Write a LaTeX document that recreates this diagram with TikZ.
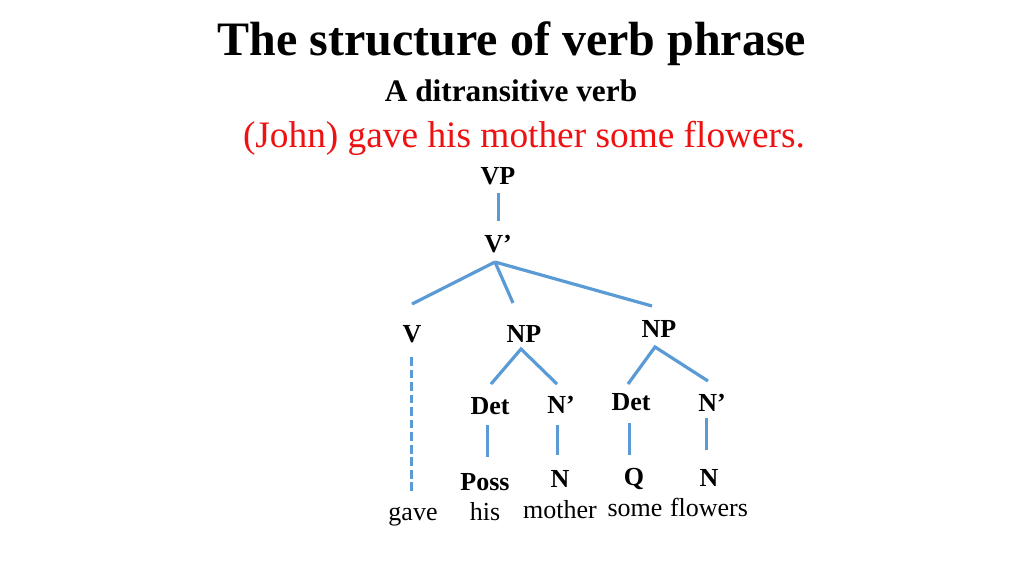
\documentclass[tikz,border=0pt]{standalone}
\usepackage{fontspec}
\setmainfont{Liberation Serif}
\definecolor{edgeblue}{HTML}{5B9BD5}
\definecolor{redtext}{HTML}{EE1111}
\begin{document}
\begin{tikzpicture}[x=0.75pt,y=-0.75pt,
  lbl/.style={anchor=base,inner sep=0pt,font=\fontsize{19.5}{22}\selectfont\bfseries},
  word/.style={anchor=base,inner sep=0pt,font=\fontsize{19.5}{22}\selectfont},
  edge/.style={draw=edgeblue,line width=2.4pt},
  dedge/.style={edge,dash pattern=on 6.6pt off 2.8pt}]
\useasboundingbox (0,0) rectangle (1024,576);
\node[anchor=base,inner sep=0pt,font=\fontsize{36}{40}\selectfont\bfseries] (title) at (512,55) {The structure of verb phrase};
\node[anchor=base,inner sep=0pt,font=\fontsize{23.5}{26}\selectfont\bfseries] (sub) at (511,101) {A ditransitive verb};
\node[anchor=base,inner sep=0pt,text=redtext,font=\fontsize{28}{32}\selectfont] (sent) at (524,147) {(John) gave his mother some flowers.};
% labels
\node[lbl] (vp) at (498,184) {VP};
\node[lbl] (vbar) at (498,252) {V’};
\node[lbl] (v) at (412,342) {V};
\node[lbl] (np1) at (524,342) {NP};
\node[lbl] (np2) at (659,337) {NP};
\node[lbl] (det1) at (490,414) {Det};
\node[lbl] (nbar1) at (561,413) {N’};
\node[lbl] (det2) at (631,410) {Det};
\node[lbl] (nbar2) at (712,411) {N’};
\node[lbl] (poss) at (485,490) {Poss};
\node[lbl] (n1) at (560,487) {N};
\node[lbl] (q) at (634,485) {Q};
\node[lbl] (n2) at (709,486) {N};
\node[word] (gave) at (413,520) {gave};
\node[word] (his) at (485,520) {his};
\node[word] (mother) at (560,518) {mother};
\node[word] (some) at (635,516) {some};
\node[word] (flowers) at (709,516) {flowers};
% edge end points
\coordinate (vp-b) at (498.5,193);
\coordinate (vbar-t) at (498.5,221);
\coordinate (vbar-b) at (495,262);
\coordinate (v-t) at (412,304);
\coordinate (np1-t) at (513,303);
\coordinate (np2-t) at (652,306);
\coordinate (np1-b) at (521,349);
\coordinate (det1-t) at (491,384);
\coordinate (nbar1-t) at (557,384);
\coordinate (np2-b) at (655,347);
\coordinate (det2-t) at (628,384);
\coordinate (nbar2-t) at (708,381);
\coordinate (det1-b) at (487.5,425);
\coordinate (poss-t) at (487.5,457);
\coordinate (nbar1-b) at (557.5,425);
\coordinate (n1-t) at (557.5,455);
\coordinate (det2-b) at (629.5,423);
\coordinate (q-t) at (629.5,455);
\coordinate (nbar2-b) at (706.5,418);
\coordinate (n2-t) at (706.5,450);
\coordinate (v-b) at (411.5,357);
\coordinate (gave-t) at (411.5,494);
\draw[edge] (vp-b) -- (vbar-t);
\draw[edge] (vbar-b) -- (v-t);
\draw[edge] (vbar-b) -- (np1-t);
\draw[edge] (vbar-b) -- (np2-t);
\draw[edge] (det1-t) -- (np1-b) -- (nbar1-t);
\draw[edge] (det2-t) -- (np2-b) -- (nbar2-t);
\draw[edge] (det1-b) -- (poss-t);
\draw[edge] (nbar1-b) -- (n1-t);
\draw[edge] (det2-b) -- (q-t);
\draw[edge] (nbar2-b) -- (n2-t);
\draw[dedge] (v-b) -- (gave-t);
\end{tikzpicture}
\end{document}
